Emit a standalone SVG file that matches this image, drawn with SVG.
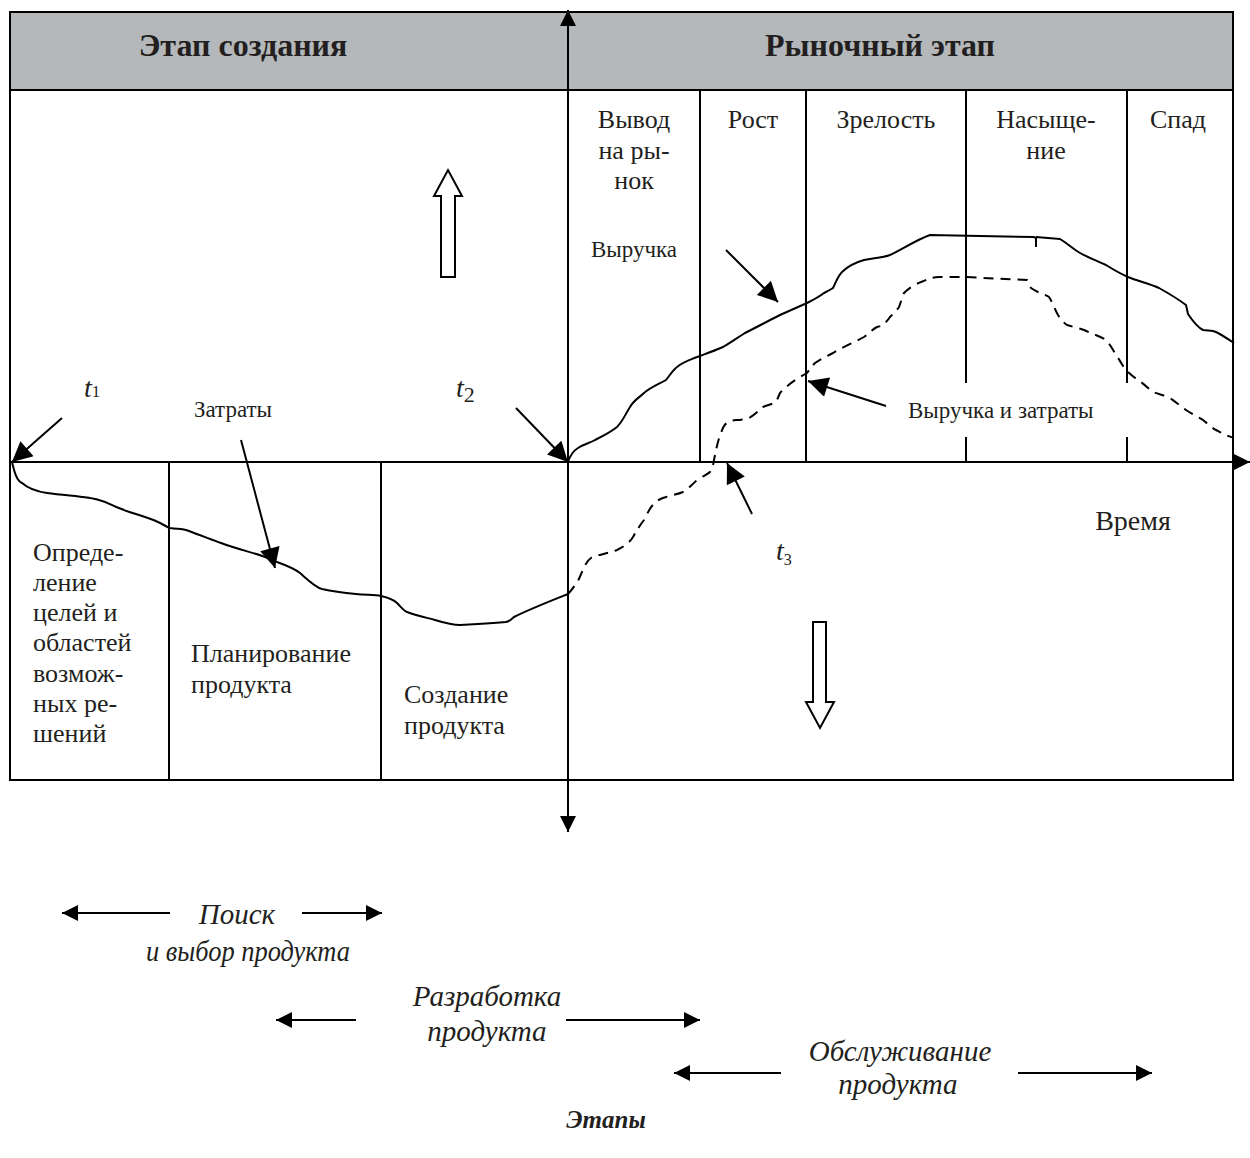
<svg xmlns="http://www.w3.org/2000/svg" width="1250" height="1158" viewBox="0 0 1250 1158">
<defs>
<marker id="ahs" viewBox="0 0 10 10" refX="10" refY="5" markerWidth="22" markerHeight="20" markerUnits="userSpaceOnUse" orient="auto"><path d="M0,0 L10,5 L0,10 z" fill="#000"/></marker>
<marker id="ahb" viewBox="0 0 10 10" refX="10" refY="5" markerWidth="18" markerHeight="16" markerUnits="userSpaceOnUse" orient="auto"><path d="M0,0 L10,5 L0,10 z" fill="#000"/></marker>
</defs>
<style>
text{font-family:"Liberation Serif","Times New Roman",serif;fill:#231f20}
.hd{font-size:32px;font-weight:bold}
.lb{font-size:26px}
.sm{font-size:23px}
.it{font-size:29px;font-style:italic}
.ln{stroke:#000;stroke-width:2;fill:none}
.cv{stroke:#000;stroke-width:2;fill:none;stroke-linejoin:round}
.ds{stroke:#000;stroke-width:2;fill:none;stroke-dasharray:10,7}
.ar{stroke:#000;stroke-width:2;fill:none;marker-end:url(#ahs)}
.ab{stroke:#000;stroke-width:2.2;fill:none;marker-end:url(#ahb)}
</style>
<rect width="1250" height="1158" fill="#fff"/>
<g id="frame">
<rect x="10" y="12" width="1223" height="78" fill="#b5b8bb" stroke="#000" stroke-width="2"/>
<rect x="10" y="90" width="1223" height="690" fill="none" stroke="#000" stroke-width="2"/>
<line class="ln" x1="700" y1="90" x2="700" y2="462"/>
<line class="ln" x1="806" y1="90" x2="806" y2="462"/>
<line class="ln" x1="966" y1="90" x2="966" y2="462"/>
<line class="ln" x1="1127" y1="90" x2="1127" y2="462"/>
<line class="ln" x1="169" y1="462" x2="169" y2="780"/>
<line class="ln" x1="381" y1="462" x2="381" y2="780"/>
<rect x="902" y="383" width="226" height="54" fill="#fff"/>
</g>
<g id="headers">
<text class="hd" x="243" y="56" text-anchor="middle">Этап создания</text>
<text class="hd" x="880" y="56" text-anchor="middle">Рыночный этап</text>
</g>
<g id="market-columns" class="lb">
<text x="634" y="128" text-anchor="middle">Вывод</text>
<text x="634" y="159" text-anchor="middle">на ры-</text>
<text x="634" y="189" text-anchor="middle">нок</text>
<text x="753" y="128" text-anchor="middle">Рост</text>
<text x="886" y="128" text-anchor="middle">Зрелость</text>
<text x="1046" y="128" text-anchor="middle">Насыще-</text>
<text x="1046" y="159" text-anchor="middle">ние</text>
<text x="1178" y="128" text-anchor="middle">Спад</text>
</g>
<g id="creation-cells" class="lb">
<text x="33" y="561">Опреде-</text>
<text x="33" y="591">ление</text>
<text x="33" y="621">целей и</text>
<text x="33" y="651">областей</text>
<text x="33" y="682">возмож-</text>
<text x="33" y="712">ных ре-</text>
<text x="33" y="742">шений</text>
<text x="191" y="662">Планирование</text>
<text x="191" y="693">продукта</text>
<text x="404" y="703">Создание</text>
<text x="404" y="734">продукта</text>
</g>
<g id="axes">
<line class="ln" x1="568" y1="830" x2="568" y2="10" marker-end="url(#ahb)"/>
<line class="ln" x1="568" y1="440" x2="568" y2="832" marker-end="url(#ahb)"/>
<line class="ln" x1="10" y1="462" x2="1250" y2="462" marker-end="url(#ahb)"/>
</g>
<g id="open-arrows" stroke="#000" stroke-width="2" fill="#fff">
<path d="M441,277 L441,196 L434,196 L448,170 L462,196 L455,196 L455,277 Z"/>
<path d="M813,622 L813,702 L806,702 L820,728 L834,702 L826,702 L826,622 Z"/>
</g>
<g id="curves">
<path class="cv" d="M12,462 C14,470 16,480 22,483 C30,490 40,492 47,493 C70,496 90,497 99,500 C110,503 113,506 119,508 C130,513 145,516 158,522 C164,525 167,527 170,528 C178,529 182,529 186,530 C200,535 210,539 221,543 C240,550 255,553 265,557 C270,559 274,561 277,562 C288,566 295,569 300,573 C308,580 315,587 322,589 C335,592 345,593 356,594 C368,595 375,595 381,596 C390,598 394,600 397,603 C401,607 404,611 407,612 C418,616 428,618 435,620 C445,623 452,625 460,625 C480,624 495,623 506,622 C510,621 512,619 514,617 C530,609 548,602 568,594"/>
<path class="ds" d="M568,594 C572,590 575,585 578,581 C583,570 586,561 591,558 C595,555 598,555 600,555 C607,553 612,552 617,550 C625,546 630,542 633,537 C637,530 640,525 644,520 C648,512 651,506 655,503 C659,499 662,498 666,497 C673,495 678,494 683,492 C689,488 693,484 697,480 C703,476 708,474 710,472 C713,468 713,465 714,460 C716,450 718,440 721,433 C723,427 725,424 727,423 C731,421 733,420 736,420 C741,420 745,419 749,418 C755,415 759,410 763,407 C768,405 773,404 776,402 C778,398 779,395 780,393 C788,384 798,378 807,373 C810,369 812,366 815,363 C821,359 827,356 833,353 C843,347 855,342 864,337 C869,333 873,329 877,327 C880,326 882,326 884,325 C886,322 888,320 890,317 C894,313 897,310 899,307 C901,302 902,297 904,293 C910,287 916,284 921,282 C928,279 933,277 939,277 L965,277 L1027,280 C1029,283 1030,286 1031,288 C1034,290 1036,291 1038,292 C1043,294 1046,295 1049,297 C1053,303 1055,310 1058,315 C1061,320 1064,323 1067,325 C1073,327 1079,328 1084,330 C1092,334 1100,336 1106,340 C1110,344 1112,349 1115,353 C1119,359 1122,365 1126,370 C1131,375 1136,379 1141,382 C1146,386 1149,389 1153,392 C1158,394 1163,395 1168,397 C1175,401 1180,406 1186,410 C1192,414 1198,417 1203,420 C1208,424 1212,428 1216,430 C1222,433 1227,436 1234,438"/>
<path class="cv" d="M568,462 C570,456 573,451 578,448 C584,444 590,443 595,440 C603,436 611,432 617,427 C623,421 626,413 630,407 C634,400 640,397 644,393 C651,387 659,384 666,380 C670,375 673,370 677,367 C683,362 690,360 697,357 C705,354 714,351 723,347 C730,343 737,338 745,333 C757,327 768,321 780,315 C789,311 798,307 807,303 C813,300 819,297 824,293 C828,291 830,290 833,288 C836,282 838,276 842,272 C848,266 857,262 864,260 C873,258 882,258 890,255 C903,249 916,240 930,235 L1034,237"/>
<path class="cv" d="M1034,237 L1036,238 L1036,247"/>
<path class="cv" d="M1036,237 L1060,239 C1067,243 1073,249 1080,253 C1089,258 1098,261 1106,265 C1114,270 1121,274 1128,277 C1138,281 1150,284 1159,288 C1168,293 1178,299 1186,305 L1188,314 C1192,320 1197,327 1203,330 C1208,331 1212,330 1216,332 C1222,335 1228,339 1234,343"/>
</g>
<g id="connectors">
<line class="ar" x1="62" y1="418" x2="12" y2="462"/>
<line class="ar" x1="516" y1="408" x2="568" y2="462"/>
<line class="ar" x1="241" y1="440" x2="275" y2="568"/>
<line class="ar" x1="726" y1="250" x2="778" y2="302"/>
<line class="ar" x1="886" y1="406" x2="808" y2="381"/>
<line class="ar" x1="752" y1="514" x2="727" y2="463"/>
</g>
<g id="point-labels">
<text x="84" y="397" style="font-size:28px;font-style:italic">t<tspan style="font-size:17px;font-style:normal">1</tspan></text>
<text x="456" y="397" style="font-size:28px;font-style:italic">t<tspan style="font-size:22px;font-style:normal" dy="5">2</tspan></text>
<text x="776" y="560" style="font-size:28px;font-style:italic">t<tspan style="font-size:16px;font-style:normal" dy="5">3</tspan></text>
<text class="sm" x="233" y="417" text-anchor="middle">Затраты</text>
<text class="sm" x="634" y="257" text-anchor="middle">Выручка</text>
<text class="sm" x="908" y="418">Выручка и затраты</text>
<text x="1133" y="530" text-anchor="middle" style="font-size:28px">Время</text>
</g>
<g id="stages">
<line class="ab" x1="170" y1="913" x2="62" y2="913"/>
<line class="ab" x1="302" y1="913" x2="382" y2="913"/>
<text class="it" x="237" y="924" text-anchor="middle">Поиск</text>
<text class="it" x="248" y="961" text-anchor="middle" textLength="204" lengthAdjust="spacingAndGlyphs">и выбор продукта</text>
<line class="ab" x1="356" y1="1020" x2="276" y2="1020"/>
<line class="ab" x1="566" y1="1020" x2="700" y2="1020"/>
<text class="it" x="487" y="1006" text-anchor="middle">Разработка</text>
<text class="it" x="487" y="1041" text-anchor="middle">продукта</text>
<line class="ab" x1="781" y1="1073" x2="674" y2="1073"/>
<line class="ab" x1="1018" y1="1073" x2="1152" y2="1073"/>
<text class="it" x="900" y="1061" text-anchor="middle">Обслуживание</text>
<text class="it" x="898" y="1094" text-anchor="middle">продукта</text>
<text x="606" y="1128" text-anchor="middle" style="font-size:25px;font-style:italic;font-weight:bold">Этапы</text>
</g>
</svg>
